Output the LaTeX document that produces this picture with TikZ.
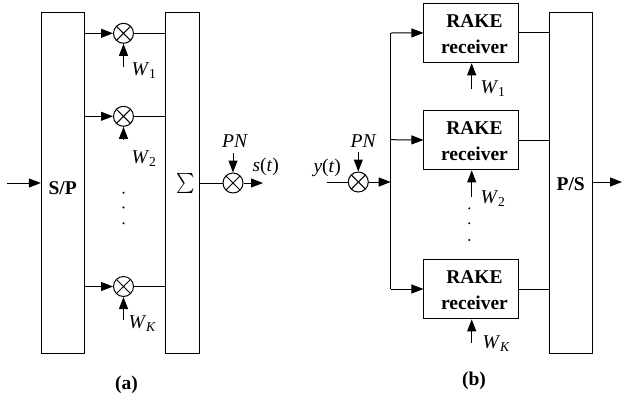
\documentclass[tikz,border=0pt]{standalone}
\usepackage{fontspec}
\setmainfont{Liberation Serif}
\usetikzlibrary{arrows.meta}
\begin{document}
\begin{tikzpicture}[x=1pt,y=-1pt,line width=1pt,
  every node/.style={font=\fontsize{19.5}{26}\selectfont, inner sep=0pt},
  tall/.style={draw, rectangle, minimum width=42.7pt, minimum height=341.3pt},
  sumbox/.style={draw, rectangle, minimum width=34.5pt, minimum height=341.3pt},
  rake/.style={draw, rectangle, minimum width=94.7pt, minimum height=59.7pt},
  bold/.style={font=\fontsize{19.5}{26}\selectfont\bfseries, align=center},
  mult/.style={draw, circle, minimum size=20pt, inner sep=0pt,
    path picture={\draw[line width=1pt] (path picture bounding box.north east) -- (path picture bounding box.south west)
      (path picture bounding box.north west) -- (path picture bounding box.south east);}},
  arr/.style={-{Triangle[length=12pt,width=9pt]}}]
\useasboundingbox (0,0) rectangle (622,400);

% ---------------- (a) ----------------
\node[tall] (sp) at (62.7,182.7) {};
\node[bold] (sptxt) at (62.7,188) {S/P};
\node[sumbox] (sum) at (182.3,182.7) {};
\node (sumtxt) at (186,184) {\scalebox{1.75}[2.0]{$\sum$}};

\node[mult] (m1) at (123.5,33.3) {};
\node[mult] (m2) at (123.5,116.3) {};
\node[mult] (mk) at (123.5,286.5) {};

\coordinate (inA) at (7,183);
\draw[arr] (inA) -- (inA -| sp.west);

\foreach \m in {m1,m2,mk}{
  \draw[arr] (sp.east |- \m) -- (\m.west);
  \draw (\m.east) -- (\m -| sum.west);
}

\coordinate (w1a) at (123.5,67);
\coordinate (w2a) at (123.5,140);
\coordinate (wka) at (123.5,320);
\draw[arr] (w1a) -- (m1.south);
\draw[arr] (w2a) -- (m2.south);
\draw[arr] (wka) -- (mk.south);
\node[anchor=base west] (lw1a) at (131,75) {\textit{W}\textsubscript{1}};
\node[anchor=base west] (lw2a) at (131,163) {\textit{W}\textsubscript{2}};
\node[anchor=base west] (lwka) at (128,328) {\textit{W}\textsubscript{\textit{K}}};

\fill (123.5,192.7) circle (1.1pt);
\fill (123.5,207.5) circle (1.1pt);
\fill (123.5,223.3) circle (1.1pt);

\node[mult] (pa) at (233,183) {};
\draw (sum.east |- pa) -- (pa.west);
\coordinate (outA) at (263,183);
\draw[arr] (pa.east) -- (outA);
\coordinate (pnA) at (233,153);
\draw[arr] (pnA) -- (pa.north);
\node[anchor=base] (pnAt) at (235,147) {\textit{PN}};
\node[anchor=base west] (st) at (252,171) {\textit{s}(\textit{t})};

\node[bold] (capa) at (126.5,384.5) {(a)};

% ---------------- (b) ----------------
\node[mult] (pb) at (358.3,182) {};
\coordinate (inB) at (327,182);
\draw (inB) -- (pb.west);
\node[anchor=base west] (yt) at (313,172) {\textit{y}(\textit{t})};
\coordinate (pnB) at (358.3,152);
\draw[arr] (pnB) -- (pb.north);
\node[anchor=base] (pnBt) at (363.5,147) {\textit{PN}};

\coordinate (bt) at (390.7,33);
\coordinate (bm) at (390.7,182);
\coordinate (b2) at (390.7,139.7);
\coordinate (bb) at (390.7,289);
\draw[arr] (pb.east) -- (bm);
\draw (bt) -- (bb);

\node[rake] (r1) at (471.3,32.9) {};
\node[rake] (r2) at (471.3,140) {};
\node[rake] (r3) at (471.3,289) {};
\node[bold] (r1t) at (474.5,34) {RAKE\\receiver};
\node[bold] (r2t) at (474.5,141) {RAKE\\receiver};
\node[bold] (r3t) at (474.5,290) {RAKE\\receiver};

\draw[arr] (bt) -- (r1.west);
\draw[arr] (b2) -- (r2.west);
\draw[arr] (bb) -- (r3.west);

\node[tall] (ps) at (570.7,182.7) {};
\node[bold] (pstxt) at (570.7,184) {P/S};

\draw (r1.east) -- (r1.east -| ps.west);
\draw (r2.east) -- (r2.east -| ps.west);
\draw (r3.east) -- (r3.east -| ps.west);

\coordinate (outB) at (622,182);
\draw[arr] (ps.east |- outB) -- (outB);

\coordinate (w1b) at (471.7,89);
\coordinate (w2b) at (471.7,197);
\coordinate (wkb) at (471.7,343);
\draw[arr] (w1b) -- (r1.south -| w1b);
\draw[arr] (w2b) -- (r2.south -| w2b);
\draw[arr] (wkb) -- (r3.south -| wkb);
\node[anchor=base west] (lw1b) at (480,93) {\textit{W}\textsubscript{1}};
\node[anchor=base west] (lw2b) at (480,203) {\textit{W}\textsubscript{2}};
\node[anchor=base west] (lwkb) at (482,348) {\textit{W}\textsubscript{\textit{K}}};

\fill (469.3,208.3) circle (1.1pt);
\fill (469.3,223.3) circle (1.1pt);
\fill (469.3,240) circle (1.1pt);

\node[bold] (capb) at (474,380.5) {(b)};
\end{tikzpicture}
\end{document}
